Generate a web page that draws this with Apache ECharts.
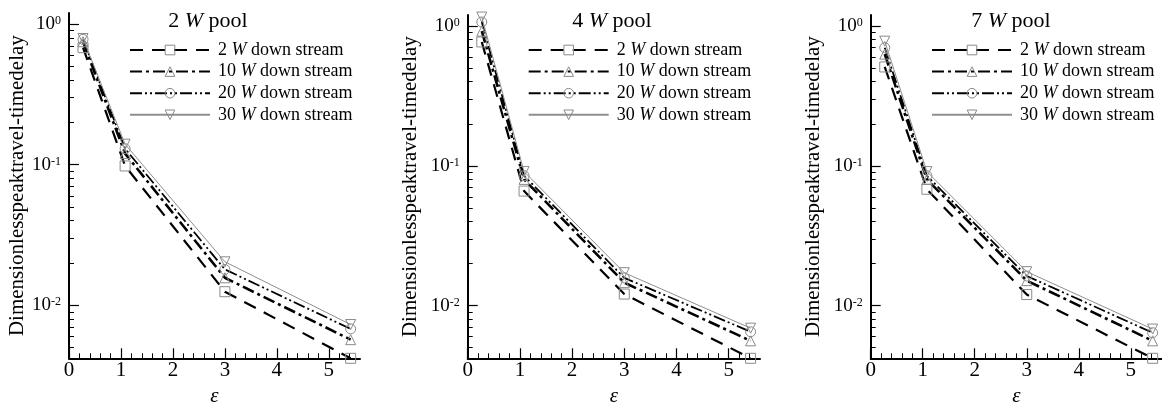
<!DOCTYPE html>
<html>
<head>
<meta charset="utf-8">
<script src="https://cdn.jsdelivr.net/npm/echarts@6/dist/echarts.min.js"></script>
<style>
html, body { margin: 0; padding: 0; background: #fff; }
#main { width: 1162px; height: 404px; }
</style>
</head>
<body>
<div id="main"></div>
<script>
var pools = ['2', '4', '7'];
var streams = ['2', '10', '20', '30'];
var eps = [0.27, 1.08, 3.0, 5.42];

// one row per down stream distance (2, 10, 20, 30 W)
var pool2 = [
	[0.68, 0.098, 0.0125, 0.0042],
	[0.75, 0.120, 0.0157, 0.0057],
	[0.78, 0.130, 0.0180, 0.0068],
	[0.79, 0.140, 0.0204, 0.0073]
];
var pool4 = [
	[0.77, 0.066, 0.0121, 0.0042],
	[0.92, 0.080, 0.0146, 0.0056],
	[1.07, 0.085, 0.0158, 0.0065],
	[1.16, 0.091, 0.0172, 0.0069]
];
var pool7 = [
	[0.51, 0.068, 0.0120, 0.0042],
	[0.63, 0.080, 0.0151, 0.0056],
	[0.70, 0.085, 0.0163, 0.0064],
	[0.78, 0.091, 0.0175, 0.0068]
];
var poolData = [pool2, pool4, pool7];

var majorY = [0.01, 0.1, 1];
var minorY = [0.005, 0.006, 0.007, 0.008, 0.009,
	0.02, 0.03, 0.04, 0.05, 0.06, 0.07, 0.08, 0.09,
	0.2, 0.3, 0.4, 0.5, 0.6, 0.7, 0.8, 0.9];
var majorX = [0, 1, 2, 3, 4, 5];
var minorX = [0.2, 0.4, 0.6, 0.8, 1.2, 1.4, 1.6, 1.8, 2.2, 2.4, 2.6, 2.8,
	3.2, 3.4, 3.6, 3.8, 4.2, 4.4, 4.6, 4.8, 5.2, 5.4];

var FONT = 'Liberation Serif';
var gridLeft = [69, 467.7, 870.7];
var gridWidth = [291, 292.3, 291.3];
var gridTop = [13, 15, 15];
var nameGap = [39.5, 47, 47];
var titleX = [208, 612, 1011];
var legendX = [129, 527.7, 931];

var lineStyles = [
	{ color : '#000', width : 2.2, type : [13, 9] },
	{ color : '#000', width : 2.6, type : [12, 4, 3, 4] },
	{ color : '#000', width : 1.8, type : [12, 3, 2, 3, 2, 3] },
	{ color : '#8f8f8f', width : 1, type : 'solid' }
];
var symbols = ['rect', 'triangle', 'circle', 'triangle'];
var rotates = [0, 0, 0, 180];

function streamName(s) {
	return s + ' W down stream';
}

var grids = [], xAxes = [], yAxes = [], series = [], titles = [], legends = [];

for (var p = 0; p < pools.length; p++) {
	grids.push({
		left : gridLeft[p],
		top : gridTop[p],
		width : gridWidth[p],
		bottom : 45.7,
		outerBoundsMode : 'none',
		containLabel : false
	});

	// main x axis: major ticks and labels
	xAxes.push({
		type : 'value',
		gridIndex : p,
		min : 0,
		max : 5.6,
		name : 'ε',
		nameLocation : 'middle',
		nameGap : 27,
		nameTextStyle : { fontFamily : FONT, fontStyle : 'italic', fontSize : 21, color : '#000' },
		axisLine : { lineStyle : { color : '#000', width : 2 } },
		axisTick : { inside : true, length : 10, customValues : majorX, lineStyle : { color : '#000', width : 1.2 } },
		axisLabel : { customValues : majorX, margin : 2, fontFamily : FONT, fontSize : 21, color : '#000' },
		splitLine : { show : false }
	});
	// second x axis only for minor ticks
	xAxes.push({
		type : 'value',
		gridIndex : p,
		min : 0,
		max : 5.6,
		position : 'bottom',
		axisLine : { show : false },
		axisTick : { inside : true, length : 5, customValues : minorX, lineStyle : { color : '#000', width : 1 } },
		axisLabel : { show : false },
		splitLine : { show : false }
	});

	yAxes.push({
		type : 'log',
		gridIndex : p,
		min : 0.0042,
		max : 1.2,
		name : 'Dimensionlesspeaktravel-timedelay',
		nameLocation : 'middle',
		nameGap : nameGap[p],
		nameTextStyle : { fontFamily : FONT, fontSize : 21, color : '#000' },
		axisLine : { lineStyle : { color : '#000', width : 2 } },
		axisTick : { inside : true, length : 10, customValues : majorY, lineStyle : { color : '#000', width : 1.2 } },
		axisLabel : {
			customValues : majorY,
			margin : 8,
			formatter : function(v) {
				var e = Math.round(Math.log(v) / Math.LN10);
				return '{b|10}{s|' + e + '}';
			},
			rich : {
				b : { fontFamily : FONT, fontSize : 19, color : '#000' },
				s : { fontFamily : FONT, fontSize : 12, color : '#000', padding : [0, 0, 6, 0] }
			}
		},
		splitLine : { show : false }
	});
	yAxes.push({
		type : 'log',
		gridIndex : p,
		min : 0.0042,
		max : 1.2,
		position : 'left',
		axisLine : { show : false },
		axisTick : { inside : true, length : 5, customValues : minorY, lineStyle : { color : '#000', width : 1 } },
		axisLabel : { show : false },
		splitLine : { show : false }
	});

	titles.push({
		text : '{n|' + pools[p] + ' }{i|W}{n| pool}',
		left : titleX[p],
		textAlign : 'center',
		top : 10,
		padding : 0,
		textStyle : {
			fontWeight : 'normal',
			rich : {
				n : { fontFamily : FONT, fontSize : 22, fontWeight : 'normal', color : '#000' },
				i : { fontFamily : FONT, fontSize : 22, fontWeight : 'normal', fontStyle : 'italic', color : '#000' }
			}
		}
	});

	legends.push({
		orient : 'vertical',
		left : legendX[p],
		top : 41,
		padding : 0,
		itemWidth : 80,
		itemHeight : 12,
		itemGap : 3.6,
		itemStyle : { borderWidth : 1 },
		data : streams.map(streamName),
		formatter : function(name) {
			var parts = name.split(' W ');
			return '{n|' + parts[0] + ' }{i|W}{n| ' + parts[1] + '}';
		},
		textStyle : {
			padding : [0, 0, 0, 3],
			rich : {
				n : { fontFamily : FONT, fontSize : 18, lineHeight : 18, color : '#000' },
				i : { fontFamily : FONT, fontSize : 18, lineHeight : 18, fontStyle : 'italic', color : '#000' }
			}
		}
	});

	for (var s = 0; s < streams.length; s++) {
		var vals = poolData[p][s];
		series.push({
			name : streamName(streams[s]),
			type : 'line',
			xAxisIndex : p * 2,
			yAxisIndex : p * 2,
			clip : false,
			symbol : symbols[s],
			symbolRotate : rotates[s],
			symbolSize : 10,
			showAllSymbol : true,
			lineStyle : lineStyles[s],
			itemStyle : { color : 'rgba(255,255,255,0)', borderColor : '#8a8a8a', borderWidth : 1 },
			emphasis : { disabled : true },
			data : eps.map(function(x, i) {
				return [x, vals[i]];
			})
		});
	}
}

var myChart = echarts.init(document.getElementById('main'));
myChart.setOption({
	animation : false,
	backgroundColor : '#fff',
	title : titles,
	legend : legends,
	grid : grids,
	xAxis : xAxes,
	yAxis : yAxes,
	series : series
});
</script>
</body>
</html>
